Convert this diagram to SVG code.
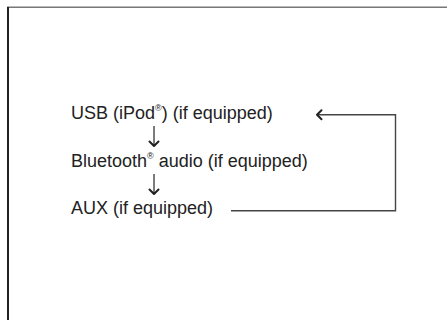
<svg xmlns="http://www.w3.org/2000/svg" width="447" height="320" viewBox="0 0 447 320">
<style>
.t{font-family:"Liberation Sans",Arial,sans-serif;font-size:18px;fill:#222}
.sup{font-size:9px}
.c{fill:none;stroke:#444;stroke-width:1.4}
.h{fill:none;stroke:#222;stroke-width:2;stroke-linecap:round;stroke-linejoin:round}
</style>
<rect width="447" height="320" fill="#fff"/>
<g id="frame">
<line x1="7" y1="7.3" x2="447" y2="7.3" stroke="#777" stroke-width="1.5"/>
<line x1="8" y1="7" x2="8" y2="320" stroke="#222" stroke-width="2"/>
</g>
<g id="node-usb"><text class="t" x="71" y="119">USB (iPod<tspan class="sup" dy="-8">®</tspan><tspan dy="8">) (if equipped)</tspan></text></g>
<g id="node-bt"><text class="t" x="71" y="166.5">Bluetooth<tspan class="sup" dy="-8">®</tspan><tspan dy="8"> audio (if equipped)</tspan></text></g>
<g id="node-aux"><text class="t" x="71" y="213.5">AUX (if equipped)</text></g>
<g id="connectors">
<line class="c" x1="154" y1="126" x2="154" y2="146"/>
<polyline class="h" points="149.5,141.5 154,146 158.5,141.5"/>
<line class="c" x1="154" y1="174" x2="154" y2="194"/>
<polyline class="h" points="149.5,189.5 154,194 158.5,189.5"/>
<polyline class="c" points="231,210.8 395.5,210.8 395.5,114.8 317,114.8"/>
<polyline class="h" points="321.5,110.3 317,114.8 321.5,119.3"/>
</g>
</svg>
